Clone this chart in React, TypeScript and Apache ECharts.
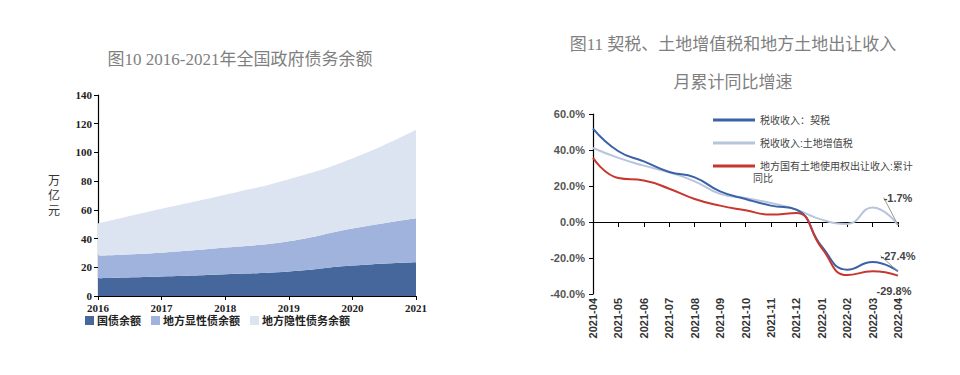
import React, { useEffect, useRef } from "react";
import * as echarts from "echarts";

const years = ["2016", "2017", "2018", "2019", "2020", "2021"];
const guozhai = [12.3, 13.5, 15.1, 17.0, 21.2, 23.5];
const difangXian = [15.8, 16.7, 18.6, 21.1, 25.8, 30.7];
const difangYin = [22.4, 30.5, 36.8, 43.3, 48.8, 61.6];

const months = [
  "2021-04", "2021-05", "2021-06", "2021-07", "2021-08", "2021-09", "2021-10",
  "2021-11", "2021-12", "2022-01", "2022-02", "2022-03", "2022-04",
];
const qiShui = [51.9, 39.3, 33.7, 27.8, 24.8, 17.0, 12.8, 9.1, 6.9, -13.5, -26.5, -22.2, -27.4];
const tudiZengzhi = [41.1, 35.6, 31.3, 27.6, 22.6, 15.6, 13.3, 10.6, 6.9, 1.3, -1.1, 8.1, -1.7];
const tudiChurang = [35.6, 24.4, 23.1, 18.5, 12.8, 9.1, 6.5, 4.1, 5.0, -14.5, -29.5, -27.4, -29.8];

const leftNames = ["国债余额", "地方显性债余额", "地方隐性债务余额"];
const rightNames = ["税收收入：契税", "税收收入:土地增值税", "地方国有土地使用权出让收入:累计同比"];

const serif = "'Liberation Serif','Noto Sans CJK SC',serif";
const sans = "Arial,'Liberation Sans','Noto Sans CJK SC',sans-serif";

function endLabel(arr: number[], position: string) {
  return arr.map((v, i) =>
    i === arr.length - 1
      ? {
          value: v,
          label: {
            show: true,
            formatter: (p: any) => p.value.toFixed(1) + "%",
            position,
            distance: 2,
            color: "#444",
            fontSize: 11,
            fontWeight: "bold",
            fontFamily: sans,
          },
        }
      : v
  );
}

export default function App() {
  const ref = useRef<HTMLDivElement>(null);
  useEffect(() => {
    const chart = echarts.init(ref.current!, null, { renderer: "svg" });
    const axisLine = { show: true, lineStyle: { color: "#000", width: 1.2 } };
    const leader = { show: true, length2: 0, lineStyle: { color: "#999", width: 1 } };
    chart.setOption({
      animation: false,
      backgroundColor: "#fff",
      title: [
        {
          text: "图10 2016-2021年全国政府债务余额",
          left: 235,
          top: 46,
          textAlign: "center",
          textStyle: { fontSize: 17, fontWeight: "normal", color: "#7f7f7f", fontFamily: serif },
        },
        {
          text: "图11 契税、土地增值税和地方土地出让收入",
          left: 728,
          top: 31,
          textAlign: "center",
          textStyle: { fontSize: 17, fontWeight: "normal", color: "#7f7f7f", fontFamily: serif },
        },
        {
          text: "月累计同比增速",
          left: 728,
          top: 69,
          textAlign: "center",
          textStyle: { fontSize: 17, fontWeight: "normal", color: "#7f7f7f", fontFamily: serif },
        },
      ],
      graphic: [
        {
          type: "text",
          left: 753,
          top: 173,
          style: { text: "同比", fontSize: 10, fill: "#444", fontFamily: sans },
        },
      ],
      legend: [
        {
          data: leftNames,
          left: 80,
          top: 310,
          itemWidth: 9,
          itemHeight: 9,
          itemGap: 10,
          icon: "rect",
          textStyle: { fontSize: 11, color: "#222", fontWeight: "bold", fontFamily: sans, padding: [0, 0, 0, -2] },
        },
        {
          data: rightNames,
          orient: "vertical",
          left: 708,
          top: 110,
          itemWidth: 42,
          itemHeight: 3,
          itemGap: 13,
          icon: "rect",
          formatter: (n: string) => (n === rightNames[2] ? "地方国有土地使用权出让收入:累计" : n),
          textStyle: { fontSize: 10, color: "#444", fontFamily: sans },
        },
      ],
      grid: [
        { left: 98, top: 95, width: 318, height: 201, outerBoundsMode: "none", containLabel: false },
        { left: 593, top: 114, width: 305, height: 180, outerBoundsMode: "none", containLabel: false },
      ],
      xAxis: [
        {
          gridIndex: 0,
          type: "category",
          data: years,
          boundaryGap: false,
          axisLine,
          axisTick: { show: true, length: 4, lineStyle: { color: "#000" } },
          axisLabel: { color: "#222", fontSize: 11, fontWeight: "bold", fontFamily: serif, margin: 6 },
        },
        {
          gridIndex: 1,
          type: "category",
          data: months,
          boundaryGap: false,
          axisLine: { ...axisLine, onZero: true },
          axisTick: { show: true, length: 5, lineStyle: { color: "#000" } },
          axisLabel: {
            color: "#333",
            fontSize: 11,
            fontWeight: "bold",
            fontFamily: sans,
            rotate: 90,
            margin: 4,
            interval: 0,
          },
        },
      ],
      yAxis: [
        {
          gridIndex: 0,
          type: "value",
          min: 0,
          max: 140,
          interval: 20,
          name: "万\n亿\n元",
          nameLocation: "middle",
          nameGap: 38,
          nameRotate: 0,
          nameTextStyle: { fontSize: 12, color: "#333", lineHeight: 15, fontFamily: sans },
          axisLine,
          axisTick: { show: true, length: 4, lineStyle: { color: "#000" } },
          splitLine: { show: false },
          axisLabel: { color: "#222", fontSize: 11, fontWeight: "bold", fontFamily: serif, margin: 6 },
        },
        {
          gridIndex: 1,
          type: "value",
          min: -40,
          max: 60,
          interval: 20,
          axisLine,
          axisTick: { show: true, length: 4, lineStyle: { color: "#000" } },
          splitLine: { show: false },
          axisLabel: {
            color: "#555",
            fontSize: 11,
            fontWeight: "bold",
            fontFamily: sans,
            margin: 8,
            formatter: (v: number) => v.toFixed(1) + "%",
          },
        },
      ],
      series: [
        {
          name: leftNames[0],
          type: "line",
          xAxisIndex: 0,
          yAxisIndex: 0,
          stack: "debt",
          smooth: true,
          symbol: "none",
          data: guozhai,
          lineStyle: { width: 0 },
          itemStyle: { color: "#46679c" },
          areaStyle: { color: "#46679c", opacity: 1 },
        },
        {
          name: leftNames[1],
          type: "line",
          xAxisIndex: 0,
          yAxisIndex: 0,
          stack: "debt",
          smooth: true,
          symbol: "none",
          data: difangXian,
          lineStyle: { width: 0 },
          itemStyle: { color: "#9fb3dc" },
          areaStyle: { color: "#9fb3dc", opacity: 1 },
        },
        {
          name: leftNames[2],
          type: "line",
          xAxisIndex: 0,
          yAxisIndex: 0,
          stack: "debt",
          smooth: true,
          symbol: "none",
          data: difangYin,
          lineStyle: { width: 0 },
          itemStyle: { color: "#dce4f1" },
          areaStyle: { color: "#dce4f1", opacity: 1 },
        },
        {
          name: rightNames[1],
          type: "line",
          xAxisIndex: 1,
          yAxisIndex: 1,
          smooth: true,
          symbol: "circle",
          symbolSize: 0,
          showSymbol: true,
          data: endLabel(tudiZengzhi, "top"),
          labelLayout: { dy: -20 },
          labelLine: leader,
          lineStyle: { width: 2, color: "#b7c5dc" },
          itemStyle: { color: "#b7c5dc" },
          z: 3,
        },
        {
          name: rightNames[0],
          type: "line",
          xAxisIndex: 1,
          yAxisIndex: 1,
          smooth: true,
          symbol: "circle",
          symbolSize: 0,
          showSymbol: true,
          data: endLabel(qiShui, "top"),
          labelLayout: { dy: -8 },
          labelLine: leader,
          lineStyle: { width: 2, color: "#3b62a6" },
          itemStyle: { color: "#3b62a6" },
          z: 4,
        },
        {
          name: rightNames[2],
          type: "line",
          xAxisIndex: 1,
          yAxisIndex: 1,
          smooth: true,
          symbol: "circle",
          symbolSize: 0,
          showSymbol: true,
          data: endLabel(tudiChurang, "bottom"),
          labelLayout: { dx: -4, dy: 8 },
          lineStyle: { width: 2, color: "#c8372f" },
          itemStyle: { color: "#c8372f" },
          z: 5,
        },
      ],
    });
    return () => chart.dispose();
  }, []);
  return (
    <div
      ref={ref}
      style={{ position: "fixed", left: 0, top: 0, width: 960, height: 375 }}
    />
  );
}
